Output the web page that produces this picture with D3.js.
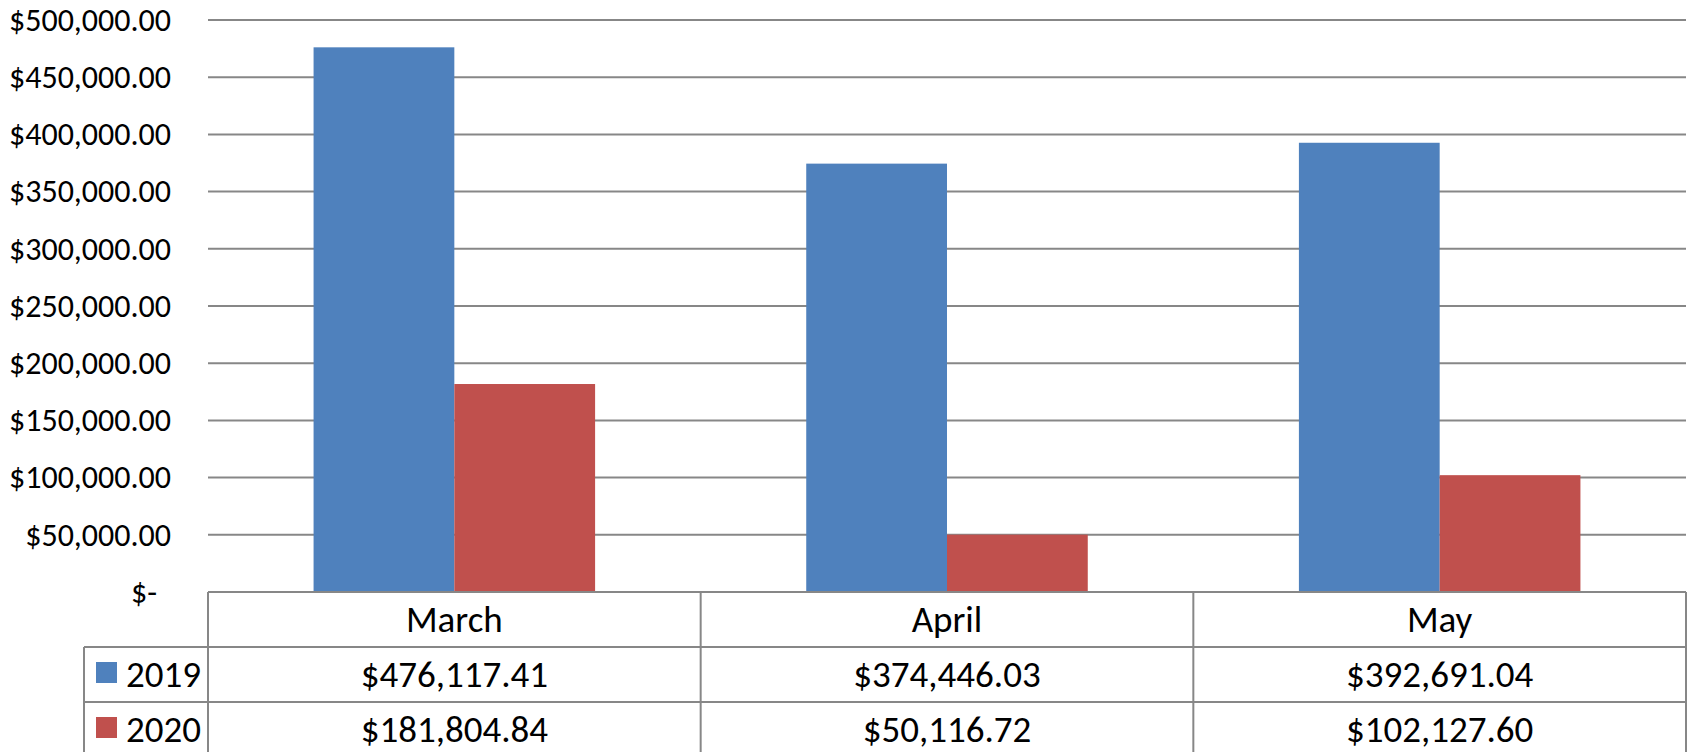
<!DOCTYPE html>
<html>
<head>
<meta charset="utf-8">
<script src="https://cdn.jsdelivr.net/npm/d3@7"></script>
<style>
  html, body { margin: 0; padding: 0; background: #fff; }
  svg { display: block; }
  text { font-family: Carlito, "Open Sans", "Noto Sans", sans-serif; fill: #000; }
</style>
</head>
<body>
<svg id="chart" width="1688" height="752"></svg>
<script>
const categories = ["March", "April", "May"];
const seriesNames = ["2019", "2020"];
const values2019 = [476117.41, 374446.03, 392691.04];
const values2020 = [181804.84, 50116.72, 102127.60];
const valueLabels2019 = ["$476,117.41", "$374,446.03", "$392,691.04"];
const valueLabels2020 = ["$181,804.84", "$50,116.72", "$102,127.60"];
const yTicks = [0, 50000, 100000, 150000, 200000, 250000, 300000, 350000, 400000, 450000, 500000];
const colors = ["#4F81BD", "#C0504D"];

const seriesValues = [values2019, values2020];
const seriesLabels = [valueLabels2019, valueLabels2020];

const svg = d3.select("#chart");
const plotLeft = 208, plotRight = 1686, plotTop = 20, plotBottom = 592;
const rowH = 55;
const legendLeft = 84;
const gridColor = "#878787";

const x0 = d3.scaleBand().domain(categories).range([plotLeft, plotRight]).padding(0);
const x1 = d3.scaleBand().domain(seriesNames).range([0, x0.bandwidth()]).paddingInner(0).paddingOuter(0.75);
const y = d3.scaleLinear().domain([0, 500000]).range([plotBottom, plotTop]);

// gridlines
svg.append("g").selectAll("line").data(yTicks.filter(d => d > 0)).join("line")
  .attr("x1", plotLeft).attr("x2", plotRight)
  .attr("y1", d => y(d)).attr("y2", d => y(d))
  .attr("stroke", gridColor).attr("stroke-width", 2);

// y labels
const fmt = d => d === 0 ? "$-" : "$" + d3.format(",.2f")(d);
svg.append("g").selectAll("text").data(yTicks).join("text")
  .attr("x", d => d === 0 ? 157 : 171)
  .attr("y", d => y(d))
  .attr("dy", "0.34em")
  .attr("text-anchor", "end")
  .style("font-size", "32px")
  .text(fmt);

// bars
const barsG = svg.append("g");
seriesNames.forEach((s, si) => {
  barsG.append("g").selectAll("rect").data(categories).join("rect")
    .attr("x", c => x0(c) + x1(s))
    .attr("width", x1.bandwidth())
    .attr("y", (c, i) => y(seriesValues[si][i]))
    .attr("height", (c, i) => y(0) - y(seriesValues[si][i]))
    .attr("fill", colors[si]);
});

// data table
const tbl = svg.append("g");
const tableBottom = plotBottom + rowH * 3 + 5;
tbl.append("line").attr("x1", plotLeft).attr("x2", plotRight).attr("y1", plotBottom).attr("y2", plotBottom)
  .attr("stroke", gridColor).attr("stroke-width", 2);
[1, 2, 3].forEach(r => {
  tbl.append("line").attr("x1", legendLeft).attr("x2", plotRight)
    .attr("y1", plotBottom + rowH * r).attr("y2", plotBottom + rowH * r)
    .attr("stroke", gridColor).attr("stroke-width", 2);
});
tbl.append("line").attr("x1", legendLeft).attr("x2", legendLeft)
  .attr("y1", plotBottom + rowH).attr("y2", tableBottom)
  .attr("stroke", gridColor).attr("stroke-width", 2);
categories.forEach(c => {
  tbl.append("line").attr("x1", x0(c)).attr("x2", x0(c))
    .attr("y1", plotBottom).attr("y2", tableBottom)
    .attr("stroke", gridColor).attr("stroke-width", 2);
});
tbl.append("line").attr("x1", plotRight).attr("x2", plotRight)
  .attr("y1", plotBottom).attr("y2", tableBottom)
  .attr("stroke", gridColor).attr("stroke-width", 2);

// header
tbl.append("g").selectAll("text").data(categories).join("text")
  .attr("x", c => x0(c) + x0.bandwidth() / 2)
  .attr("y", plotBottom + rowH / 2)
  .attr("dy", "0.34em")
  .attr("text-anchor", "middle")
  .style("font-size", "37px")
  .text(c => c);

// rows
seriesNames.forEach((s, si) => {
  const rowTop = plotBottom + rowH * (si + 1);
  tbl.append("rect").attr("x", 96).attr("y", rowTop + 15).attr("width", 21).attr("height", 21)
    .attr("fill", colors[si]);
  tbl.append("text").attr("x", 126).attr("y", rowTop + rowH / 2).attr("dy", "0.34em")
    .style("font-size", "37px").text(s);
  tbl.append("g").selectAll("text").data(categories).join("text")
    .attr("x", c => x0(c) + x0.bandwidth() / 2)
    .attr("y", rowTop + rowH / 2)
    .attr("dy", "0.34em")
    .attr("text-anchor", "middle")
    .style("font-size", "37px")
    .text((c, i) => seriesLabels[si][i]);
});
</script>
</body>
</html>
